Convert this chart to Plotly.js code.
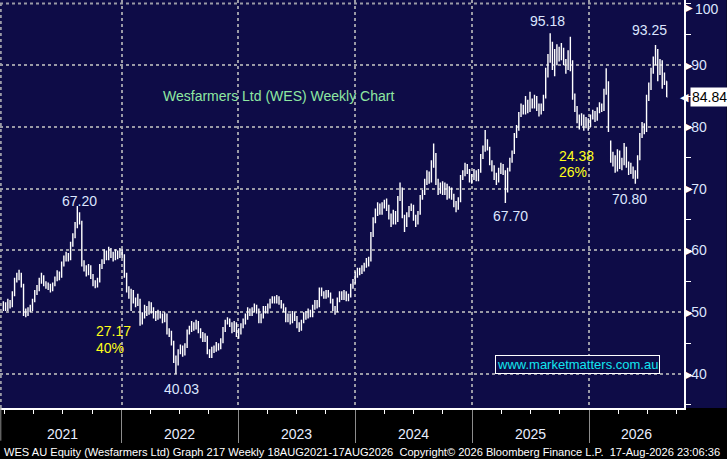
<!DOCTYPE html>
<html>
<head>
<meta charset="utf-8">
<script src="https://cdn.plot.ly/plotly-3.0.1.min.js"></script>
<style>
  html, body { margin: 0; padding: 0; background: #000; }
  #chart { width: 727px; height: 459px; }
</style>
</head>
<body>
<div id="chart"></div>
<script>
// weekly bars, first week 28 Dec 2020
const firstWeek = '2020-12-28';

const opens = [
  50.8, 51.2, 50.6, 51.8, 51.0, 52.9, 55.0, 55.8, 56.2, 54.4,
  50.0, 49.8, 50.4, 50.6, 51.8, 53.0, 53.6, 55.0, 55.8, 54.6,
  54.2, 54.0, 53.8, 54.4, 55.4, 56.2, 55.8, 57.8, 58.6, 59.2,
  58.6, 61.0, 62.4, 64.0, 65.5, 64.6, 57.8, 57.0, 56.4, 57.2,
  56.0, 54.6, 54.4, 55.0, 57.4, 58.0, 59.6, 58.8, 60.0, 59.2,
  58.8, 59.6, 59.0, 59.8, 59.2, 56.0, 53.8, 52.6, 53.2, 51.8,
  51.4, 51.8, 48.6, 49.4, 50.6, 50.0, 51.2, 50.4, 49.6, 49.2,
  49.8, 49.4, 48.8, 49.6, 46.8, 46.6, 45.0, 42.4, 41.6, 43.6,
  44.2, 43.4, 44.6, 46.8, 47.2, 48.0, 47.6, 48.4, 47.0, 46.4,
  45.8, 46.0, 43.6, 43.0, 43.8, 44.0, 44.6, 44.2, 45.2, 47.2,
  48.4, 48.6, 48.0, 47.2, 48.0, 46.4, 46.8, 47.8, 48.4, 49.2,
  50.2, 49.8, 50.4, 50.8, 50.4, 48.6, 49.4, 50.6, 50.2, 51.0,
  51.8, 52.2, 51.8, 52.4, 51.6, 51.0, 50.4, 48.8, 49.4, 48.6,
  49.6, 49.0, 47.8, 47.4, 48.4, 49.6, 49.2, 50.0, 49.6, 50.8,
  51.6, 51.0, 53.6, 53.0, 52.6, 53.2, 52.8, 51.8, 50.6, 50.2,
  51.8, 52.8, 52.4, 53.0, 52.2, 52.6, 54.2, 54.8, 56.0, 56.6,
  56.4, 57.0, 57.4, 58.0, 58.4, 62.6, 64.8, 66.2, 67.0, 66.4,
  67.2, 67.6, 66.8, 65.4, 64.6, 66.0, 64.8, 68.4, 69.8, 65.6,
  64.0, 65.8, 66.8, 67.2, 65.2, 64.6, 66.0, 68.6, 69.4, 71.0,
  72.2, 71.4, 73.8, 75.6, 71.0, 69.6, 70.4, 69.6, 70.4, 68.8,
  69.8, 68.6, 67.4, 66.8, 68.0, 71.8, 72.4, 73.6, 72.8, 71.4,
  71.8, 72.6, 71.6, 72.8, 75.2, 76.4, 77.6, 76.6, 74.2, 73.4,
  72.0, 71.4, 72.8, 73.6, 72.6, 69.6, 73.0, 74.6, 75.8, 78.6,
  79.6, 82.0, 83.0, 82.4, 83.6, 82.6, 84.0, 83.4, 84.6, 83.0,
  82.6, 82.8, 84.8, 88.4, 91.0, 93.4, 91.2, 90.4, 92.0, 91.4,
  92.4, 90.4, 89.6, 91.8, 90.6, 85.0, 83.0, 81.2, 80.6, 81.6,
  80.4, 81.0, 80.2, 81.6, 82.2, 81.4, 82.6, 83.4, 82.8, 85.6,
  87.0, 77.6, 75.2, 74.6, 73.2, 75.8, 73.8, 74.2, 76.4, 74.0,
  73.6, 73.0, 72.4, 71.8, 75.0, 78.6, 80.0, 79.4, 84.6, 86.4,
  89.0, 90.6, 92.2, 89.0, 90.4, 88.6, 87.4
];

const highs = [
  51.8, 51.6, 52.2, 52.0, 53.4, 55.6, 56.4, 56.9, 56.4, 54.6,
  50.6, 50.8, 51.2, 52.2, 53.6, 54.4, 55.6, 56.4, 56.0, 55.0,
  54.8, 54.6, 54.8, 55.8, 56.8, 56.6, 58.2, 59.2, 59.8, 59.6,
  61.4, 62.8, 64.6, 67.2, 66.2, 64.8, 58.4, 57.6, 57.8, 57.6,
  56.2, 55.2, 55.6, 57.8, 58.6, 60.2, 60.0, 60.6, 60.4, 59.8,
  60.2, 60.0, 60.4, 60.2, 59.4, 56.4, 54.2, 53.8, 53.6, 52.4,
  53.0, 52.2, 50.0, 51.2, 51.0, 51.8, 51.6, 50.8, 50.2, 50.4,
  50.2, 49.8, 50.0, 49.8, 47.4, 47.0, 45.4, 43.0, 44.0, 44.8,
  44.6, 45.0, 47.2, 47.8, 48.6, 48.4, 48.8, 48.6, 47.4, 46.8,
  46.6, 46.2, 44.0, 44.4, 44.6, 45.2, 45.0, 45.8, 47.6, 48.8,
  49.2, 49.0, 48.4, 48.6, 48.4, 47.4, 48.2, 49.0, 49.8, 50.8,
  50.6, 50.8, 51.4, 51.2, 50.6, 49.8, 51.0, 51.0, 51.4, 52.2,
  52.6, 52.6, 52.8, 52.6, 52.0, 51.4, 50.8, 49.8, 49.8, 50.2,
  50.0, 49.4, 48.4, 48.8, 50.0, 50.2, 50.6, 50.4, 51.2, 52.0,
  52.0, 54.0, 54.0, 53.4, 53.6, 53.6, 53.2, 52.2, 51.0, 52.4,
  53.4, 53.4, 53.6, 53.4, 53.0, 54.6, 55.4, 56.6, 57.2, 57.2,
  57.6, 58.0, 58.8, 59.0, 63.0, 65.4, 66.8, 67.8, 67.6, 67.8,
  68.2, 68.4, 67.4, 66.0, 66.6, 66.4, 68.8, 71.0, 70.2, 65.8,
  66.2, 67.2, 67.6, 67.4, 65.8, 66.4, 69.0, 69.8, 71.6, 73.0,
  72.8, 74.6, 77.3, 75.8, 71.6, 71.0, 71.2, 71.0, 70.8, 70.4,
  70.2, 69.2, 68.0, 68.6, 72.2, 73.0, 74.2, 74.0, 73.2, 72.4,
  73.2, 73.0, 73.2, 75.6, 77.0, 79.5, 78.0, 76.8, 74.6, 73.8,
  72.6, 73.4, 74.2, 74.0, 73.0, 73.4, 75.0, 76.2, 79.0, 80.3,
  82.4, 83.8, 83.6, 85.0, 84.4, 85.7, 84.6, 85.2, 85.0, 83.8,
  83.8, 85.2, 89.6, 91.8, 95.18, 93.8, 92.6, 93.4, 93.0, 93.6,
  92.8, 91.0, 92.4, 94.6, 90.8, 85.4, 83.4, 82.0, 82.2, 82.0,
  81.6, 81.4, 82.0, 82.8, 82.6, 83.2, 84.0, 83.8, 86.2, 89.5,
  87.4, 77.8, 76.0, 75.4, 76.4, 76.2, 75.0, 77.4, 76.8, 74.4,
  74.2, 73.6, 73.0, 75.4, 79.0, 80.8, 80.6, 85.2, 87.2, 89.6,
  91.4, 93.25, 92.6, 91.0, 90.8, 88.8, 87.4
];

const lows = [
  50.2, 50.2, 50.2, 50.6, 50.8, 52.6, 54.8, 55.2, 54.0, 49.4,
  49.2, 49.4, 50.0, 50.2, 51.6, 52.8, 53.4, 54.6, 54.2, 53.8,
  53.6, 53.2, 53.4, 54.2, 55.0, 55.2, 55.6, 57.4, 58.2, 58.2,
  58.4, 60.6, 62.0, 63.6, 64.2, 57.4, 56.6, 55.8, 56.0, 55.4,
  54.2, 53.9, 54.0, 54.8, 57.0, 57.8, 58.4, 58.4, 58.8, 58.2,
  58.4, 58.6, 58.8, 58.8, 55.6, 53.2, 52.2, 50.2, 51.4, 50.8,
  51.0, 47.8, 48.0, 49.0, 49.4, 49.6, 49.8, 49.0, 48.6, 48.8,
  49.0, 48.2, 48.4, 46.4, 46.0, 44.6, 41.8, 40.03, 41.4, 43.2,
  42.8, 43.0, 44.2, 46.4, 46.8, 47.0, 47.2, 46.6, 45.8, 45.2,
  45.2, 43.2, 42.6, 42.6, 43.4, 43.6, 43.8, 44.0, 45.0, 46.8,
  48.0, 47.6, 46.6, 46.8, 46.0, 45.7, 46.4, 47.4, 48.0, 48.8,
  49.4, 49.4, 50.0, 49.8, 48.2, 48.2, 49.0, 49.8, 49.8, 50.6,
  51.4, 51.4, 51.4, 51.2, 50.6, 50.0, 48.4, 48.4, 48.0, 48.2,
  48.6, 47.4, 46.8, 47.0, 48.2, 48.8, 49.0, 49.2, 49.2, 50.4,
  50.6, 50.8, 52.6, 52.2, 52.2, 52.4, 51.4, 50.2, 49.6, 50.0,
  51.6, 52.0, 52.0, 51.8, 51.8, 52.4, 53.8, 54.6, 55.6, 56.0,
  56.2, 56.6, 57.2, 57.4, 58.2, 62.2, 64.4, 65.6, 65.8, 65.8,
  66.8, 66.4, 65.0, 63.8, 64.2, 64.2, 64.6, 68.0, 65.2, 63.0,
  63.8, 65.4, 66.4, 64.8, 63.8, 64.2, 65.8, 68.2, 69.0, 70.6,
  70.8, 71.0, 73.4, 70.6, 69.0, 69.2, 69.0, 69.0, 68.2, 68.4,
  68.2, 67.0, 66.2, 66.6, 67.8, 71.4, 72.0, 72.4, 71.0, 70.8,
  71.4, 71.2, 71.2, 72.6, 74.8, 76.0, 76.2, 73.8, 72.8, 71.4,
  70.6, 71.0, 72.4, 72.2, 67.7, 69.4, 72.8, 74.2, 75.6, 78.2,
  79.4, 81.6, 82.0, 82.0, 82.2, 82.4, 83.0, 83.0, 82.6, 81.7,
  82.0, 82.6, 84.6, 88.0, 90.4, 89.2, 88.2, 90.0, 90.6, 90.8,
  90.0, 88.6, 89.2, 89.0, 84.4, 82.4, 80.6, 79.6, 80.2, 79.4,
  79.8, 79.4, 80.0, 81.2, 80.8, 81.0, 82.2, 82.4, 82.6, 85.2,
  79.2, 74.2, 73.6, 72.6, 72.8, 73.2, 73.0, 73.8, 73.4, 72.2,
  72.4, 71.6, 70.8, 71.6, 74.6, 78.2, 78.8, 79.2, 84.2, 86.0,
  88.6, 90.0, 87.4, 88.4, 86.2, 86.8, 84.84
];

const closes = [
  51.2, 50.6, 51.8, 51.0, 52.9, 55.0, 55.8, 56.2, 54.5, 50.0,
  49.8, 50.4, 50.6, 51.8, 53.0, 53.6, 55.0, 55.8, 54.6, 54.2,
  54.0, 53.8, 54.4, 55.4, 56.2, 55.8, 57.8, 58.6, 59.2, 58.6,
  61.0, 62.4, 64.0, 65.5, 64.8, 57.8, 57.0, 56.4, 57.2, 56.0,
  54.6, 54.4, 55.0, 57.4, 58.0, 59.6, 58.8, 60.0, 59.2, 58.8,
  59.6, 59.0, 59.8, 59.2, 56.0, 53.8, 52.6, 53.2, 51.8, 51.4,
  52.0, 48.6, 49.4, 50.6, 50.0, 51.2, 50.4, 49.6, 49.2, 49.8,
  49.4, 48.8, 49.6, 46.8, 46.6, 45.0, 42.4, 41.6, 43.6, 44.2,
  43.4, 44.6, 46.8, 47.2, 48.0, 47.6, 48.4, 47.0, 46.4, 45.8,
  46.0, 43.6, 43.0, 43.8, 44.0, 44.6, 44.2, 45.2, 47.2, 48.4,
  48.6, 48.0, 47.2, 48.0, 46.4, 46.8, 47.8, 48.4, 49.2, 50.2,
  49.8, 50.4, 50.8, 50.4, 48.6, 49.4, 50.6, 50.2, 51.0, 51.8,
  52.2, 51.8, 52.4, 51.6, 51.0, 50.4, 48.8, 49.4, 48.6, 49.6,
  49.0, 47.8, 47.4, 48.4, 49.6, 49.2, 50.0, 49.6, 50.8, 51.6,
  51.0, 53.6, 53.0, 52.6, 53.2, 52.8, 51.8, 50.6, 50.2, 51.8,
  52.8, 52.4, 53.0, 52.2, 52.6, 54.2, 54.8, 56.0, 56.6, 56.4,
  57.0, 57.4, 58.0, 58.2, 62.6, 64.8, 66.2, 67.0, 66.4, 67.2,
  67.6, 66.8, 65.4, 64.6, 66.0, 64.8, 68.4, 69.8, 65.6, 64.0,
  65.8, 66.8, 67.2, 65.2, 64.6, 66.0, 68.6, 69.4, 71.0, 72.2,
  71.4, 73.8, 75.6, 71.0, 69.6, 70.4, 69.6, 70.4, 68.8, 69.8,
  68.6, 67.4, 66.8, 68.0, 71.8, 72.4, 73.6, 72.8, 71.4, 71.8,
  72.6, 71.6, 72.8, 75.2, 76.4, 77.6, 76.6, 74.2, 73.4, 72.0,
  71.4, 72.8, 73.6, 72.6, 69.6, 73.0, 74.6, 75.8, 78.6, 79.6,
  82.0, 83.0, 82.4, 83.6, 82.6, 84.0, 83.4, 84.6, 83.0, 82.6,
  82.8, 84.8, 88.4, 91.0, 93.4, 91.2, 90.4, 92.0, 91.4, 92.4,
  90.4, 89.6, 91.8, 90.6, 85.0, 83.0, 81.2, 80.6, 81.6, 80.4,
  81.0, 80.2, 81.6, 82.2, 81.4, 82.6, 83.4, 82.8, 85.6, 87.4,
  79.6, 75.2, 74.6, 73.2, 75.8, 73.8, 74.2, 76.4, 74.0, 73.6,
  73.0, 72.4, 71.6, 74.8, 78.6, 80.0, 79.4, 84.6, 86.4, 89.0,
  90.6, 92.2, 89.0, 90.4, 88.6, 87.6, 84.84
];

const yearLabels = ['2021', '2022', '2023', '2024', '2025', '2026'];
const priceTicks = [40, 50, 60, 70, 80, 90];
const topTick = 100;
const lastPrice = 84.84;

const navy = '#0e0c47';
const gridGrey = '#9a9aa6';
const xStart = '2020-12-17 12:00';
const xEnd = '2026-10-24';

// one date per week
const dates = [];
const d0 = new Date(firstWeek + 'T00:00:00Z');
for (let i = 0; i < closes.length; i++) {
  const d = new Date(d0.getTime() + i * 7 * 86400000);
  dates.push(d.toISOString().slice(0, 10));
}

// plot area is 684 x 408 px, helpers to place text by pixel
const PW = 684.3, PH = 408.3;
function px(x) { return x / PW; }
function py(y) { return 1 - y / PH; }

const trace = {
  type: 'ohlc',
  x: dates,
  open: opens,
  high: highs,
  low: lows,
  close: closes,
  increasing: { line: { color: '#ffffff', width: 1.4 } },
  decreasing: { line: { color: '#ffffff', width: 1.4 } },
  tickwidth: 0.6,
  hoverinfo: 'skip'
};

// year labels centred on the visible part of each year
const t0 = new Date(xStart.replace(' ', 'T') + 'Z').getTime();
const t1 = new Date(xEnd + 'T00:00:00Z').getTime();
const yearAnn = yearLabels.map(function (yr) {
  const a = Math.max(t0, Date.UTC(+yr, 0, 1));
  const b = Math.min(t1, Date.UTC(+yr + 1, 0, 1));
  const mid = new Date((a + b) / 2).toISOString().slice(0, 10);
  return {
    xref: 'x', yref: 'paper', x: mid, y: py(434),
    text: yr, showarrow: false, xanchor: 'center', yanchor: 'middle',
    font: { family: 'Liberation Sans, Arial', size: 14, color: '#e8eeff' }
  };
});

function label(text, x, y, color, anchor) {
  return {
    xref: 'paper', yref: 'paper', x: px(x), y: py(y),
    text: text, showarrow: false, xanchor: anchor || 'center', yanchor: 'middle',
    font: { family: 'Liberation Sans, Arial', size: 14, color: color }
  };
}

const white = '#dce6ff';
const yellow = '#ffff1a';

// little white pointers next to the price labels
const pointerAnn = priceTicks.map(function (v) {
  return {
    xref: 'paper', yref: 'y', x: px(689), y: v,
    text: '\u25B6', showarrow: false, xanchor: 'center', yanchor: 'middle',
    font: { family: 'DejaVu Sans', size: 10, color: '#ffffff' }
  };
});
// the top label sits just under the top edge
pointerAnn.push({
  xref: 'paper', yref: 'paper', x: px(689), y: 1,
  text: '\u25B6', showarrow: false, xanchor: 'center', yanchor: 'top',
  font: { family: 'DejaVu Sans', size: 10, color: '#ffffff' }
});
pointerAnn.push({
  xref: 'paper', yref: 'paper', x: px(693), y: py(9),
  text: String(topTick), showarrow: false, xanchor: 'left', yanchor: 'middle',
  font: { family: 'Liberation Sans, Arial', size: 14, color: white }
});

const annotations = yearAnn.concat(pointerAnn, [
  label('67.20', 80, 201, white),
  label('40.03', 182, 389, white),
  label('27.17', 94, 331, yellow, 'left'),
  label('40%', 94, 348, yellow, 'left'),
  label('67.70', 511, 216, white),
  label('95.18', 548, 21, white),
  label('24.38', 557, 156, yellow, 'left'),
  label('26%', 557, 172, yellow, 'left'),
  label('70.80', 630, 199, white),
  label('93.25', 650, 30, white),
  label('Wesfarmers Ltd (WES) Weekly Chart', 279, 96, '#8fe8a2'),
  {
    xref: 'paper', yref: 'paper', x: px(578), y: py(365),
    text: 'www.marketmatters.com.au', showarrow: false,
    xanchor: 'center', yanchor: 'middle',
    bgcolor: navy, bordercolor: '#ffffff', borderwidth: 1, borderpad: 1,
    font: { family: 'Liberation Sans, Arial', size: 13, color: '#12e6f0' }
  },
  {
    xref: 'paper', yref: 'y', x: px(691), y: lastPrice,
    text: '\u25C0', showarrow: false, xanchor: 'right', yanchor: 'middle',
    font: { family: 'DejaVu Sans', size: 11, color: '#ffffff' }
  },
  {
    xref: 'paper', yref: 'y', x: px(690), y: lastPrice,
    text: '84.84', showarrow: false, xanchor: 'left', yanchor: 'middle',
    bgcolor: '#ffffff', borderpad: 1,
    font: { family: 'Liberation Sans, Arial', size: 14, color: '#000000' }
  },
  {
    xref: 'paper', yref: 'paper', x: px(2), y: py(452),
    text: 'WES AU Equity (Wesfarmers Ltd) Graph 217 Weekly 18AUG2021-17AUG2026  Copyright\u00A9 2026 Bloomberg Finance L.P.  17-Aug-2026 23:06:36',
    showarrow: false, xanchor: 'left', yanchor: 'middle',
    font: { family: 'Liberation Sans, Arial', size: 11.1, color: '#ffffff' }
  }
]);

const shapes = [
  // navy strip behind the right price axis
  { type: 'rect', xref: 'paper', yref: 'paper', x0: 1, x1: 727 / PW, y0: 0, y1: 1,
    fillcolor: navy, line: { width: 0 }, layer: 'below' },
  // left edge dotted line
  { type: 'line', xref: 'paper', yref: 'paper', x0: px(0.8), x1: px(0.8), y0: 0, y1: 1,
    line: { color: gridGrey, width: 2, dash: 'dot' } },
  { type: 'line', xref: 'paper', yref: 'paper', x0: px(0.8), x1: px(0.8), y0: py(408), y1: py(441),
    line: { color: '#8c8c8c', width: 1 } },
  // dotted line at 100
  { type: 'line', xref: 'paper', yref: 'y', x0: 0, x1: 1, y0: topTick, y1: topTick,
    line: { color: gridGrey, width: 2, dash: 'dot' } }
];

const layout = {
  width: 727,
  height: 459,
  margin: { l: 0, r: 727 - PW, t: 0, b: 459 - PH },
  paper_bgcolor: '#000000',
  plot_bgcolor: navy,
  showlegend: false,
  hovermode: false,
  font: { family: 'Liberation Sans, Arial', size: 14, color: white },
  xaxis: {
    type: 'date',
    range: [xStart, xEnd],
    rangeslider: { visible: false },
    tickmode: 'array',
    tickvals: ['2022-01-01', '2023-01-01', '2024-01-01', '2025-01-01', '2026-01-01'],
    showticklabels: false,
    ticks: 'outside',
    ticklen: 33,
    tickwidth: 1,
    tickcolor: '#8c8c8c',
    showgrid: true,
    gridcolor: gridGrey,
    gridwidth: 2,
    griddash: 'dot',
    showline: true,
    linecolor: '#ffffff',
    linewidth: 1.5,
    zeroline: false,
    minor: {
      tickmode: 'linear',
      tick0: '2021-01-01',
      dtick: 'M3',
      ticks: 'outside',
      ticklen: 4,
      tickwidth: 1,
      tickcolor: '#ffffff',
      showgrid: false
    },
    fixedrange: true
  },
  yaxis: {
    side: 'right',
    range: [34.5, 100.55],
    tickmode: 'array',
    tickvals: priceTicks,
    ticks: 'outside',
    ticklen: 3,
    tickcolor: 'rgba(0,0,0,0)',
    tickfont: { family: 'Liberation Sans, Arial', size: 14, color: white },
    showgrid: true,
    gridcolor: gridGrey,
    gridwidth: 2,
    griddash: 'dot',
    showline: true,
    linecolor: '#ffffff',
    linewidth: 1.5,
    zeroline: false,
    minor: {
      tickmode: 'linear',
      tick0: 35,
      dtick: 5,
      ticks: 'outside',
      ticklen: 5,
      tickwidth: 1,
      tickcolor: '#ffffff',
      showgrid: false
    },
    fixedrange: true
  },
  annotations: annotations,
  shapes: shapes
};

Plotly.newPlot('chart', [trace], layout, { displayModeBar: false, staticPlot: true });
</script>
</body>
</html>
